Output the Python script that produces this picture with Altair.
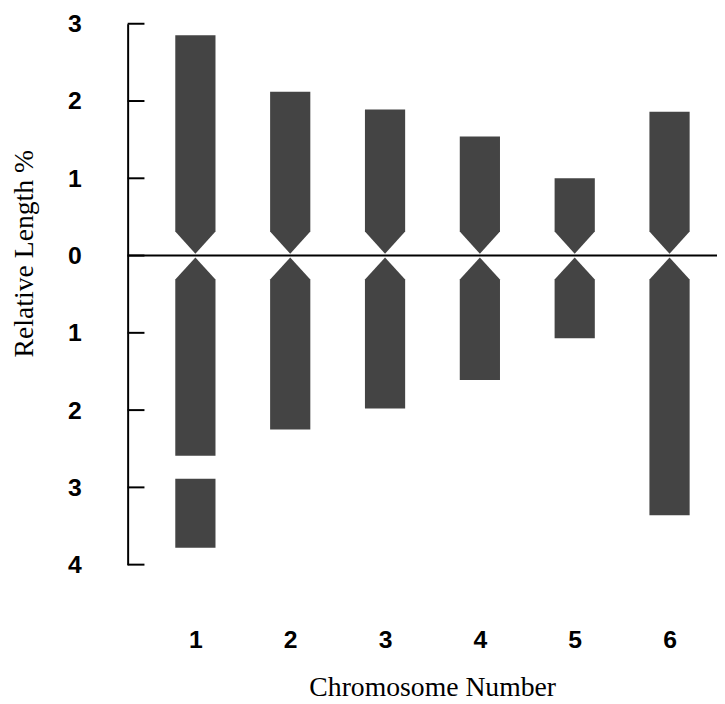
import altair as alt
import pandas as pd

# ---- data ----
chromosomes = [1, 2, 3, 4, 5, 6]
short_arm = [2.85, 2.12, 1.89, 1.54, 1.00, 1.86]   # above centromere
long_arm = [2.59, 2.25, 1.98, 1.61, 1.07, 3.36]    # below centromere
satellite_chrom = [1]
satellite_start = [2.89]
satellite_end = [3.78]
y_ticks = [-4, -3, -2, -1, 0, 1, 2, 3]

HALF = 0.212   # half width of a chromosome (x units)
TAPER = 0.31   # length of the centromere taper
GAP = 0.025    # gap at the centromere point

rows = []
for c, p, q in zip(chromosomes, short_arm, long_arm):
    s = f"{c}p"
    rows += [
        dict(seg=s, y=p, x=c - HALF, x2=c + HALF),
        dict(seg=s, y=TAPER, x=c - HALF, x2=c + HALF),
        dict(seg=s, y=GAP, x=c, x2=c),
    ]
    s = f"{c}q"
    rows += [
        dict(seg=s, y=-GAP, x=c, x2=c),
        dict(seg=s, y=-TAPER, x=c - HALF, x2=c + HALF),
        dict(seg=s, y=-q, x=c - HALF, x2=c + HALF),
    ]
for c, a, b in zip(satellite_chrom, satellite_start, satellite_end):
    s = f"{c}s"
    rows += [
        dict(seg=s, y=-a, x=c - HALF, x2=c + HALF),
        dict(seg=s, y=-b, x=c - HALF, x2=c + HALF),
    ]
df = pd.DataFrame(rows)

W, H = 596, 547
xscale = alt.Scale(domain=[0.2857, 0.2857 + W / 95.9], nice=False, zero=False)
yscale = alt.Scale(domain=[-4, 3], nice=False, zero=False)

LABEL = dict(labelFont="Liberation Sans", labelFontSize=25, labelFontWeight="bold",
             labelColor="black")

area = alt.Chart(df).mark_area(orient="horizontal", color="#444444").encode(
    y=alt.Y("y:Q", scale=yscale, axis=alt.Axis(
        values=y_ticks, labelExpr="format(abs(datum.value), 'd')",
        title="Relative Length %", titleFont="Liberation Serif", titleFontSize=28,
        titleFontWeight="normal", titleColor="black", titleAngle=-90,
        titleX=-96, titleY=232, titleAlign="center", titleBaseline="alphabetic",
        labelPadding=47, ticks=False, tickSize=0, grid=False,
        domain=True, domainColor="black", domainWidth=2, **LABEL)),
    x=alt.X("x:Q", scale=xscale, stack=None, axis=alt.Axis(
        values=chromosomes, format="d",
        title="Chromosome Number", titleFont="Liberation Serif", titleFontSize=28,
        titleFontWeight="normal", titleColor="black",
        titleX=308, titleY=132, titleAlign="center", titleBaseline="alphabetic",
        labelPadding=84, labelBaseline="alphabetic",
        ticks=False, tickSize=0, grid=False, domain=False, **LABEL)),
    x2="x2:Q",
    detail="seg:N",
)

ticks = alt.Chart(pd.DataFrame({"v": y_ticks})).mark_rule(
    color="black", strokeWidth=2).encode(
    y=alt.Y("v:Q", scale=yscale), x=alt.value(0), x2=alt.value(17))

centro = alt.Chart(pd.DataFrame({"v": [0]})).mark_rule(
    color="black", strokeWidth=2).encode(
    y=alt.Y("v:Q", scale=yscale), x=alt.value(0), x2=alt.value(W))

chart = alt.layer(area, ticks, centro).properties(
    width=W, height=H,
    padding={"left": 121, "top": 12, "right": 0, "bottom": 137},
    autosize=alt.AutoSizeParams(type="none"),
).configure_view(stroke=None)

chart.save("out.html", embed_options={"renderer": "svg", "actions": False})
